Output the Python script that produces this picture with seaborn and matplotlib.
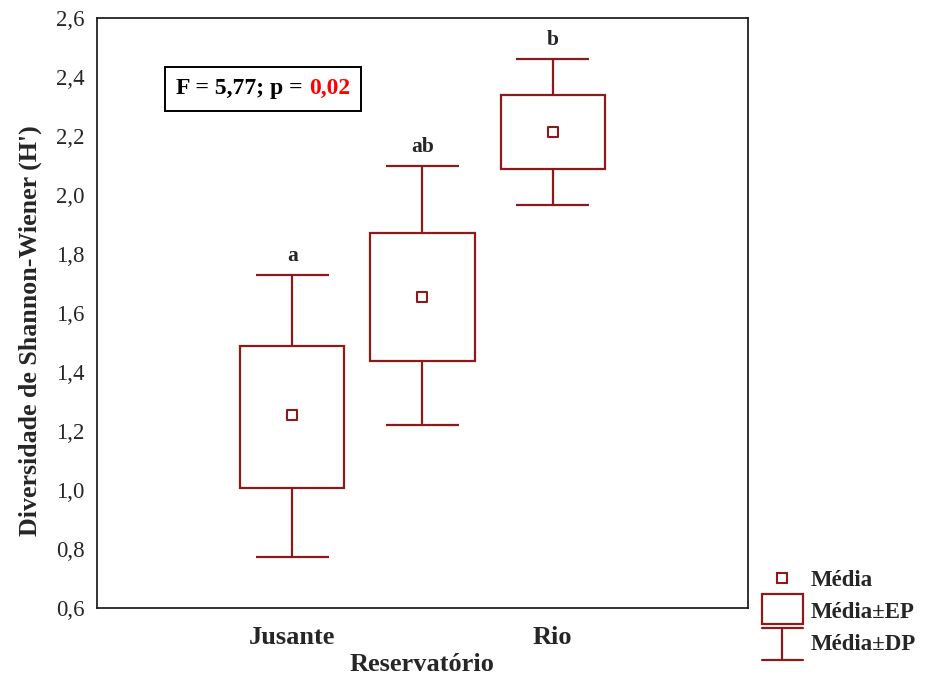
import matplotlib
matplotlib.use("Agg")
import matplotlib.pyplot as plt
import seaborn as sns
import pandas as pd
from matplotlib.patches import Rectangle
from matplotlib.lines import Line2D
from matplotlib.legend_handler import HandlerBase
from matplotlib.offsetbox import TextArea, HPacker, AnchoredOffsetbox

categories = ["Jusante", "Reservatório", "Rio"]
tick_labels = ["Jusante", "", "Rio"]
means = [1.254, 1.654, 2.214]
ep_low = [1.007, 1.437, 2.088]
ep_high = [1.488, 1.871, 2.339]
dp_low = [0.773, 1.220, 1.966]
dp_high = [1.729, 2.098, 2.461]
letters = ["a", "ab", "b"]

RED = "#8b1a1a"
sns.set_theme(style="white")
plt.rcParams["font.family"] = ["Liberation Serif", "DejaVu Serif"]

df = pd.DataFrame({"cat": categories, "pos": range(3), "mean": means,
                   "lo": ep_low, "hi": ep_high, "dlo": dp_low, "dhi": dp_high})

fig = plt.figure(figsize=(9.28, 6.86), dpi=100)
ax = fig.add_axes([0.1045, 0.1137, 0.7015, 0.8601])

LW = 1.6
# whiskers (Média±DP)
ax.vlines(df["pos"], df["dlo"], df["lo"], color=RED, lw=LW, zorder=2)
ax.vlines(df["pos"], df["hi"], df["dhi"], color=RED, lw=LW, zorder=2)
ax.hlines(df["dlo"], df["pos"] - 0.28, df["pos"] + 0.28, color=RED, lw=LW, zorder=2)
ax.hlines(df["dhi"], df["pos"] - 0.28, df["pos"] + 0.28, color=RED, lw=LW, zorder=2)
# boxes (Média±EP)
ax.bar(df["pos"], df["hi"] - df["lo"], bottom=df["lo"], width=0.8,
       facecolor="white", edgecolor=RED, linewidth=LW, zorder=3)
# means
sns.scatterplot(data=df, x="pos", y="mean", marker="s", s=42, facecolor="white",
                edgecolor=RED, linewidth=1.5, ax=ax, zorder=4, legend=False)

for p, top, lt in zip(df["pos"], dp_high, letters):
    ax.text(p, top + 0.03, lt, ha="center", va="bottom", fontsize=15.5, fontweight="bold")

ax.set_xlim(-1.5, 3.5)
ax.set_ylim(0.6, 2.6)
ax.set_xticks(range(3))
ax.set_xticklabels(tick_labels, fontsize=19, fontweight="bold")
yt = [0.6 + 0.2 * i for i in range(11)]
ax.set_yticks(yt)
ax.set_yticklabels([f"{v:.1f}".replace(".", ",") for v in yt], fontsize=16.5)
ax.tick_params(axis="y", length=0, pad=9)
ax.tick_params(axis="x", length=0, pad=13)
ax.set_xlabel("Reservatório", fontsize=19, fontweight="bold")
ax.xaxis.set_label_coords(0.5, -0.077)
ax.set_ylabel("Diversidade de Shannon-Wiener (H')", fontsize=18.6, fontweight="bold")
ax.yaxis.set_label_coords(-0.085, 0.47)
for s in ax.spines.values():
    s.set_color("#222222")
    s.set_linewidth(1.3)

# stats box
t1 = TextArea("F = 5,77; p = ", textprops=dict(fontsize=17, fontweight="bold", color="black"))
t2 = TextArea("0,02", textprops=dict(fontsize=17, fontweight="bold", color="red"))
pack = HPacker(children=[t1, t2], align="baseline", pad=0, sep=0)
ab = AnchoredOffsetbox(loc="upper left", child=pack, pad=0.5, borderpad=0,
                       frameon=True, bbox_to_anchor=(0.1045, 0.917),
                       bbox_transform=ax.transAxes, prop=dict(size=16.5))
ab.patch.set_edgecolor("black")
ab.patch.set_linewidth(1.4)
ab.patch.set_boxstyle("square", pad=0)
ax.add_artist(ab)


class BoxHandler(HandlerBase):
    def create_artists(self, legend, orig, xd, yd, w, h, fs, trans):
        c = yd + h / 2
        r = Rectangle((xd, c - 10), w, 21, fc="white", ec=RED, lw=LW, transform=trans)
        return [r]


class WhiskHandler(HandlerBase):
    def create_artists(self, legend, orig, xd, yd, w, h, fs, trans):
        c = yd + h / 2
        top = c + 10
        bot = c - 13
        l1 = Line2D([xd, xd + w], [top, top], color=RED, lw=LW, transform=trans)
        l2 = Line2D([xd + w / 2, xd + w / 2], [bot, top], color=RED, lw=LW, transform=trans)
        l3 = Line2D([xd, xd + w], [bot, bot], color=RED, lw=LW, transform=trans)
        return [l1, l2, l3]


h_mean = Line2D([], [], marker="s", ls="none", markersize=6.5, mfc="white", mec=RED, mew=1.5)
h_box = Rectangle((0, 0), 1, 1)
h_wh = Line2D([], [])
fig.legend([h_mean, h_box, h_wh], ["Média", "Média±EP", "Média±DP"],
           handler_map={h_box: BoxHandler(), h_wh: WhiskHandler()},
           loc="upper left", bbox_to_anchor=(0.811, 0.183), frameon=False,
           prop={"weight": "bold", "size": 16.5}, handlelength=1.8, handletextpad=0.35,
           labelspacing=0.48, borderaxespad=0)

fig.savefig("out.png", dpi=100)
